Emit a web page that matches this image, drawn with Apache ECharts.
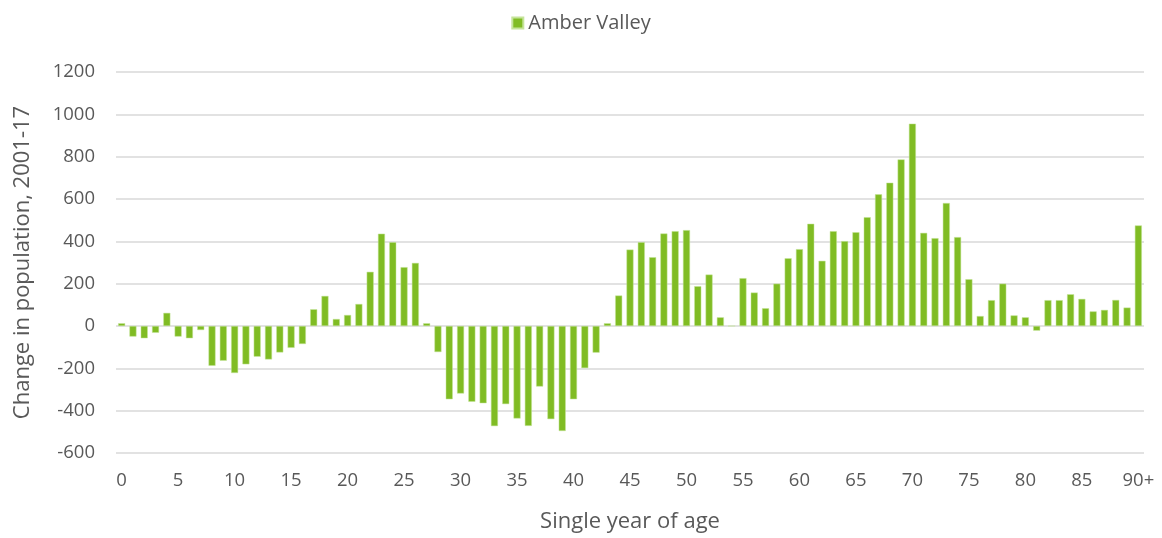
<!DOCTYPE html>
<html>
<head>
<meta charset="utf-8">
<script src="https://cdn.jsdelivr.net/npm/echarts@6/dist/echarts.min.js"></script>
<style>html,body{margin:0;padding:0;background:#fff;}#c{width:1162px;height:538px;}</style>
</head>
<body>
<div id="c"></div>
<script>
var categories = [];
for (var i = 0; i < 90; i++) categories.push(String(i));
categories.push('90+');

var seriesName = 'Amber Valley';
var values = [
  13, -50, -58, -32, 62, -50, -58, -19, -188, -164,
  -222, -181, -145, -158, -125, -103, -85, 79, 142, 33,
  52, 104, 256, 436, 396, 278, 298, 13, -123, -346,
  -319, -358, -365, -473, -369, -437, -472, -286, -440, -496,
  -346, -199, -126, 13, 144, 361, 396, 325, 437, 448,
  453, 188, 243, 41, 0, 226, 158, 84, 200, 320,
  363, 483, 308, 448, 401, 443, 514, 622, 677, 787,
  956, 440, 415, 581, 420, 221, 47, 122, 200, 50,
  41, -22, 122, 122, 150, 128, 69, 76, 123, 87,
  475
];
var yTicks = { min: -600, max: 1200, interval: 200 };

var chart = echarts.init(document.getElementById('c'));
var font = '"Open Sans", "Liberation Sans", sans-serif';
chart.setOption({
  animation: false,
  textStyle: { fontFamily: font },
  legend: {
    top: 8, left: 'center',
    icon: 'rect',
    itemWidth: 11, itemHeight: 11, itemGap: 6,
    textStyle: { color: '#595959', fontSize: 20, fontFamily: font },
    data: [seriesName]
  },
  grid: { left: 116, right: 18, top: 72, bottom: 85, outerBoundsMode: 'none', containLabel: false },
  xAxis: {
    type: 'category',
    data: categories,
    name: 'Single year of age',
    nameLocation: 'middle',
    nameGap: 58,
    nameTextStyle: { color: '#595959', fontSize: 22, fontFamily: font },
    axisLine: { show: false, onZero: false },
    axisTick: { show: false },
    axisLabel: { interval: 4, color: '#595959', fontSize: 18.5, margin: 18, fontFamily: font }
  },
  yAxis: {
    type: 'value',
    min: yTicks.min, max: yTicks.max, interval: yTicks.interval,
    name: 'Change in population, 2001-17',
    nameLocation: 'middle',
    nameGap: 82,
    nameTextStyle: { color: '#595959', fontSize: 22, fontFamily: font },
    axisLine: { show: false },
    axisTick: { show: false },
    axisLabel: { color: '#595959', fontSize: 18.5, margin: 21, fontFamily: font,
      formatter: function (v) { return String(v); } },
    splitLine: { lineStyle: { color: '#d9d9d9', width: 1.5 } }
  },
  series: [{
    name: seriesName,
    type: 'bar',
    data: values,
    barCategoryGap: '38%',
    itemStyle: { color: '#80bc24', borderColor: '#c5e49a', borderWidth: 0.5 }
  }]
});
</script>
</body>
</html>
